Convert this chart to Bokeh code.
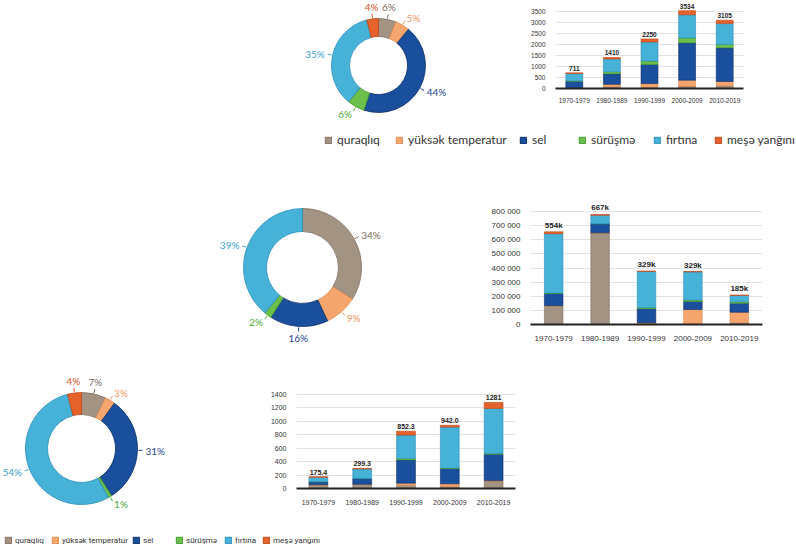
import numpy as np
from math import pi
from bokeh.plotting import figure
from bokeh.layouts import row, column
from bokeh.models import (Range1d, FactorRange, FixedTicker, Legend, LegendItem,
                          ColumnDataSource, Spacer)
from bokeh.core.properties import value
from bokeh.embed import file_html
from bokeh.resources import INLINE

# ---------------- data ----------------
categories = ["quraqlıq", "yüksək temperatur", "sel", "sürüşmə", "fırtına", "meşə yanğını"]
decades = ["1970-1979", "1980-1989", "1990-1999", "2000-2009", "2010-2019"]

fill_colors = ["#a29382", "#f5a56e", "#1a4f9d", "#6dbf4b", "#47b2d8", "#e5622b"]
edge_colors = ["#7e6f60", "#e38a4e", "#0c2c66", "#3f9a2a", "#2a8fba", "#c2461a"]
label_colors = ["#7a6b5c", "#ee9560", "#1d4590", "#4fa834", "#35a3cc", "#d9531e"]

# donut shares (%)
share_events = [6, 5, 44, 6, 35, 4]
share_deaths = [34, 9, 16, 2, 39, 0]
share_losses = [7, 3, 31, 1, 54, 4]

# stacked bars 1: number of events
ev_drought = [20, 80, 60, 100, 120]
ev_heat = [10, 110, 165, 280, 200]
ev_flood = [300, 480, 870, 1695, 1530]
ev_slide = [20, 90, 150, 225, 150]
ev_storm = [330, 585, 870, 1050, 950]
ev_fire = [31, 65, 135, 184, 155]
ev_labels = ["711", "1410", "2250", "3534", "3105"]
ev_ticks = [0, 500, 1000, 1500, 2000, 2500, 3000, 3500]

# stacked bars 2: deaths
de_drought = [130000, 647000, 5000, 2000, 12000]
de_heat = [3000, 2000, 8000, 104000, 75000]
de_flood = [87000, 64000, 99000, 57000, 64000]
de_slide = [3000, 1000, 8000, 10000, 10000]
de_storm = [420000, 59000, 256000, 200000, 45000]
de_fire = [13000, 6000, 2000, 2000, 2000]
de_labels = ["554k", "667k", "329k", "329k", "185k"]
de_ticks = [0, 100000, 200000, 300000, 400000, 500000, 600000, 700000, 800000]
de_tick_labels = ["0", "100 000", "200 000", "300 000", "400 000", "500 000",
                  "600 000", "700 000", "800 000"]

# stacked bars 3: economic losses
lo_drought = [50, 60, 50, 30, 110]
lo_heat = [5, 3, 30, 40, 10]
lo_flood = [45, 85, 345, 225, 390]
lo_slide = [2, 2, 20, 10, 12]
lo_storm = [65, 140, 350, 610, 670]
lo_fire = [8.4, 9.3, 57.3, 27, 89]
lo_labels = ["175.4", "299.3", "852.3", "942.0", "1281"]
lo_ticks = [0, 200, 400, 600, 800, 1000, 1200, 1400]

TICK_FONT = "Liberation Sans"


def donut(shares, r_in, r_out, width, height, cx, cy_top):
    p = figure(width=width, height=height,
               x_range=Range1d(-cx, width - cx),
               y_range=Range1d(-(height - cy_top), cy_top),
               min_border=0, toolbar_location=None, output_backend="svg",
               x_axis_location=None, y_axis_location=None)
    p.grid.visible = False
    p.outline_line_color = None
    p.background_fill_color = None
    p.border_fill_color = None
    sh = np.array(shares, dtype=float)
    frac = sh / sh.sum()
    cum = np.concatenate([[0.0], np.cumsum(frac)])
    th0 = cum[:-1] * 2 * pi
    th1 = cum[1:] * 2 * pi
    keep = sh > 0
    src = ColumnDataSource(dict(
        start=(pi / 2 - th1)[keep], end=(pi / 2 - th0)[keep],
        fill=[c for c, k in zip(fill_colors, keep) if k],
        edge=[c for c, k in zip(edge_colors, keep) if k]))
    p.annular_wedge(x=0, y=0, inner_radius=r_in, outer_radius=r_out,
                    start_angle="start", end_angle="end", source=src,
                    fill_color="fill", line_color="edge", line_width=0.8)
    mid = (th0 + th1) / 2
    s, c = np.sin(mid)[keep], np.cos(mid)[keep]
    R = r_out + 8
    lx, ly, al = [], [], []
    for si, ci in zip(s, c):
        x, y = si * R, ci * R
        if si > 0.35:
            al.append("left")
        elif si < -0.35:
            al.append("right")
        else:
            al.append("center")
            y += 4 * np.sign(ci)
        lx.append(x)
        ly.append(y)
    cols = [c2 for c2, k in zip(label_colors, keep) if k]
    lsrc = ColumnDataSource(dict(
        x=lx, y=ly, al=al, t=[f"{int(v)}%" for v in sh[keep]], col=cols))
    p.text(x="x", y="y", text="t", source=lsrc, text_align="al",
           text_baseline="middle", text_color="col",
           text_font=value("Lato"), text_font_size=value("10px"))
    seg = ColumnDataSource(dict(x0=s * (r_out + 1), y0=c * (r_out + 1),
                                x1=s * (r_out + 5), y1=c * (r_out + 5), col=cols))
    p.segment(x0="x0", y0="y0", x1="x1", y1="y1", source=seg,
              line_color="col", line_width=1)
    return p


def stacked(data, ylim, ticks, tick_labels, top_labels, bar_w, fsize, xstand,
            fw, fh, bl, br, bt, bb):
    keys = [f"s{i}" for i in range(len(data))]
    d = dict(decade=decades)
    for k, arr in zip(keys, data):
        d[k] = arr
    src = ColumnDataSource(d)
    p = figure(x_range=FactorRange(*decades), y_range=Range1d(0, ylim),
               frame_width=fw, frame_height=fh,
               min_border_left=bl, min_border_right=br,
               min_border_top=bt, min_border_bottom=bb,
               toolbar_location=None, output_backend="svg")
    p.outline_line_color = None
    p.background_fill_color = None
    p.border_fill_color = None
    p.vbar_stack(keys, x="decade", width=bar_w, source=src,
                 fill_color=fill_colors, line_color=edge_colors, line_width=0.6)
    totals = np.sum(np.array(data, dtype=float), axis=0)
    lsrc = ColumnDataSource(dict(x=decades, y=totals, t=top_labels))
    p.text(x="x", y="y", text="t", source=lsrc, text_align="center",
           text_baseline="bottom", y_offset=-2, text_color="#222222",
           text_font=value(TICK_FONT), text_font_size=value(fsize),
           text_font_style="bold")
    tk = FixedTicker(ticks=ticks)
    p.yaxis.ticker = tk
    p.ygrid.ticker = tk
    if tick_labels is not None:
        p.yaxis.major_label_overrides = {t: l for t, l in zip(ticks, tick_labels)}
    p.yaxis.axis_line_color = None
    p.yaxis.major_tick_line_color = None
    p.yaxis.minor_tick_line_color = None
    p.yaxis.major_label_standoff = 4
    p.yaxis.major_label_text_font_size = fsize
    p.yaxis.major_label_text_font = TICK_FONT
    p.yaxis.major_label_text_color = "#333333"
    p.xaxis.axis_line_color = "#222222"
    p.xaxis.axis_line_width = 2
    p.xaxis.major_tick_line_color = None
    p.xaxis.minor_tick_line_color = None
    p.xaxis.major_label_standoff = xstand
    p.xaxis.major_label_text_font_size = fsize
    p.xaxis.major_label_text_font = TICK_FONT
    p.xaxis.major_label_text_color = "#333333"
    p.xgrid.grid_line_color = None
    p.ygrid.grid_line_color = "#e2e2e2"
    return p


def legend_fig(width, height, xs, font, size, label_h, y_bottom, standoff):
    p = figure(width=width, height=height, x_range=Range1d(0, 1), y_range=Range1d(0, 1),
               min_border=0, toolbar_location=None, output_backend="svg",
               x_axis_location=None, y_axis_location=None)
    p.grid.visible = False
    p.outline_line_color = None
    p.background_fill_color = None
    p.border_fill_color = None
    for name, fc, ec, x in zip(categories, fill_colors, edge_colors, xs):
        r = p.vbar(x=[10], top=[10], width=1, fill_color=fc, line_color=ec, line_width=1)
        lg = Legend(items=[LegendItem(label=name, renderers=[r])],
                    location=(x, y_bottom), orientation="horizontal",
                    glyph_width=8, glyph_height=8, label_standoff=standoff,
                    label_height=label_h, padding=0, margin=0, spacing=0,
                    border_line_color=None, background_fill_alpha=0,
                    label_text_font=font, label_text_font_size=size,
                    label_text_color="#333333")
        p.add_layout(lg, "center")
    return p


# ---------------- figures ----------------
d1 = donut(share_events, 29, 47, 180, 125, 90, 65)
b1 = stacked([ev_drought, ev_heat, ev_flood, ev_slide, ev_storm, ev_fire],
             4000, ev_ticks, None, ev_labels, 0.45, "6.5px", 3,
             188, 88, 50, 53, 0, 37)

leg1 = legend_fig(796, 30, [324, 395, 519, 578, 653, 714], "Lato", "12px", 14, 8, 5)

d2 = donut(share_deaths, 36, 59, 200, 165, 100, 82)
b2 = stacked([de_drought, de_heat, de_flood, de_slide, de_storm, de_fire],
             948700, de_ticks, de_tick_labels, de_labels, 0.4, "8px", 5,
             232, 134, 60, 34, 5, 26)

d3 = donut(share_losses, 34, 56, 170, 165, 81, 93)
b3 = stacked([lo_drought, lo_heat, lo_flood, lo_slide, lo_storm, lo_fire],
             1832, lo_ticks, None, lo_labels, 0.43, "7px", 5,
             219, 123, 40, 15, 10, 32)

leg2 = legend_fig(796, 30, [4, 51, 132, 175, 224, 262], "Roboto", "8px", 12, 4, 3)

layout = column(
    row(Spacer(width=288, height=125), column(d1), Spacer(width=37, height=125), column(b1)),
    leg1,
    Spacer(width=796, height=30),
    row(Spacer(width=202, height=165), column(d2), Spacer(width=68, height=165), column(b2)),
    Spacer(width=796, height=5),
    row(column(d3), Spacer(width=86, height=165), column(b3)),
    leg2,
)

open("out.html", "w").write(file_html(layout, INLINE))
